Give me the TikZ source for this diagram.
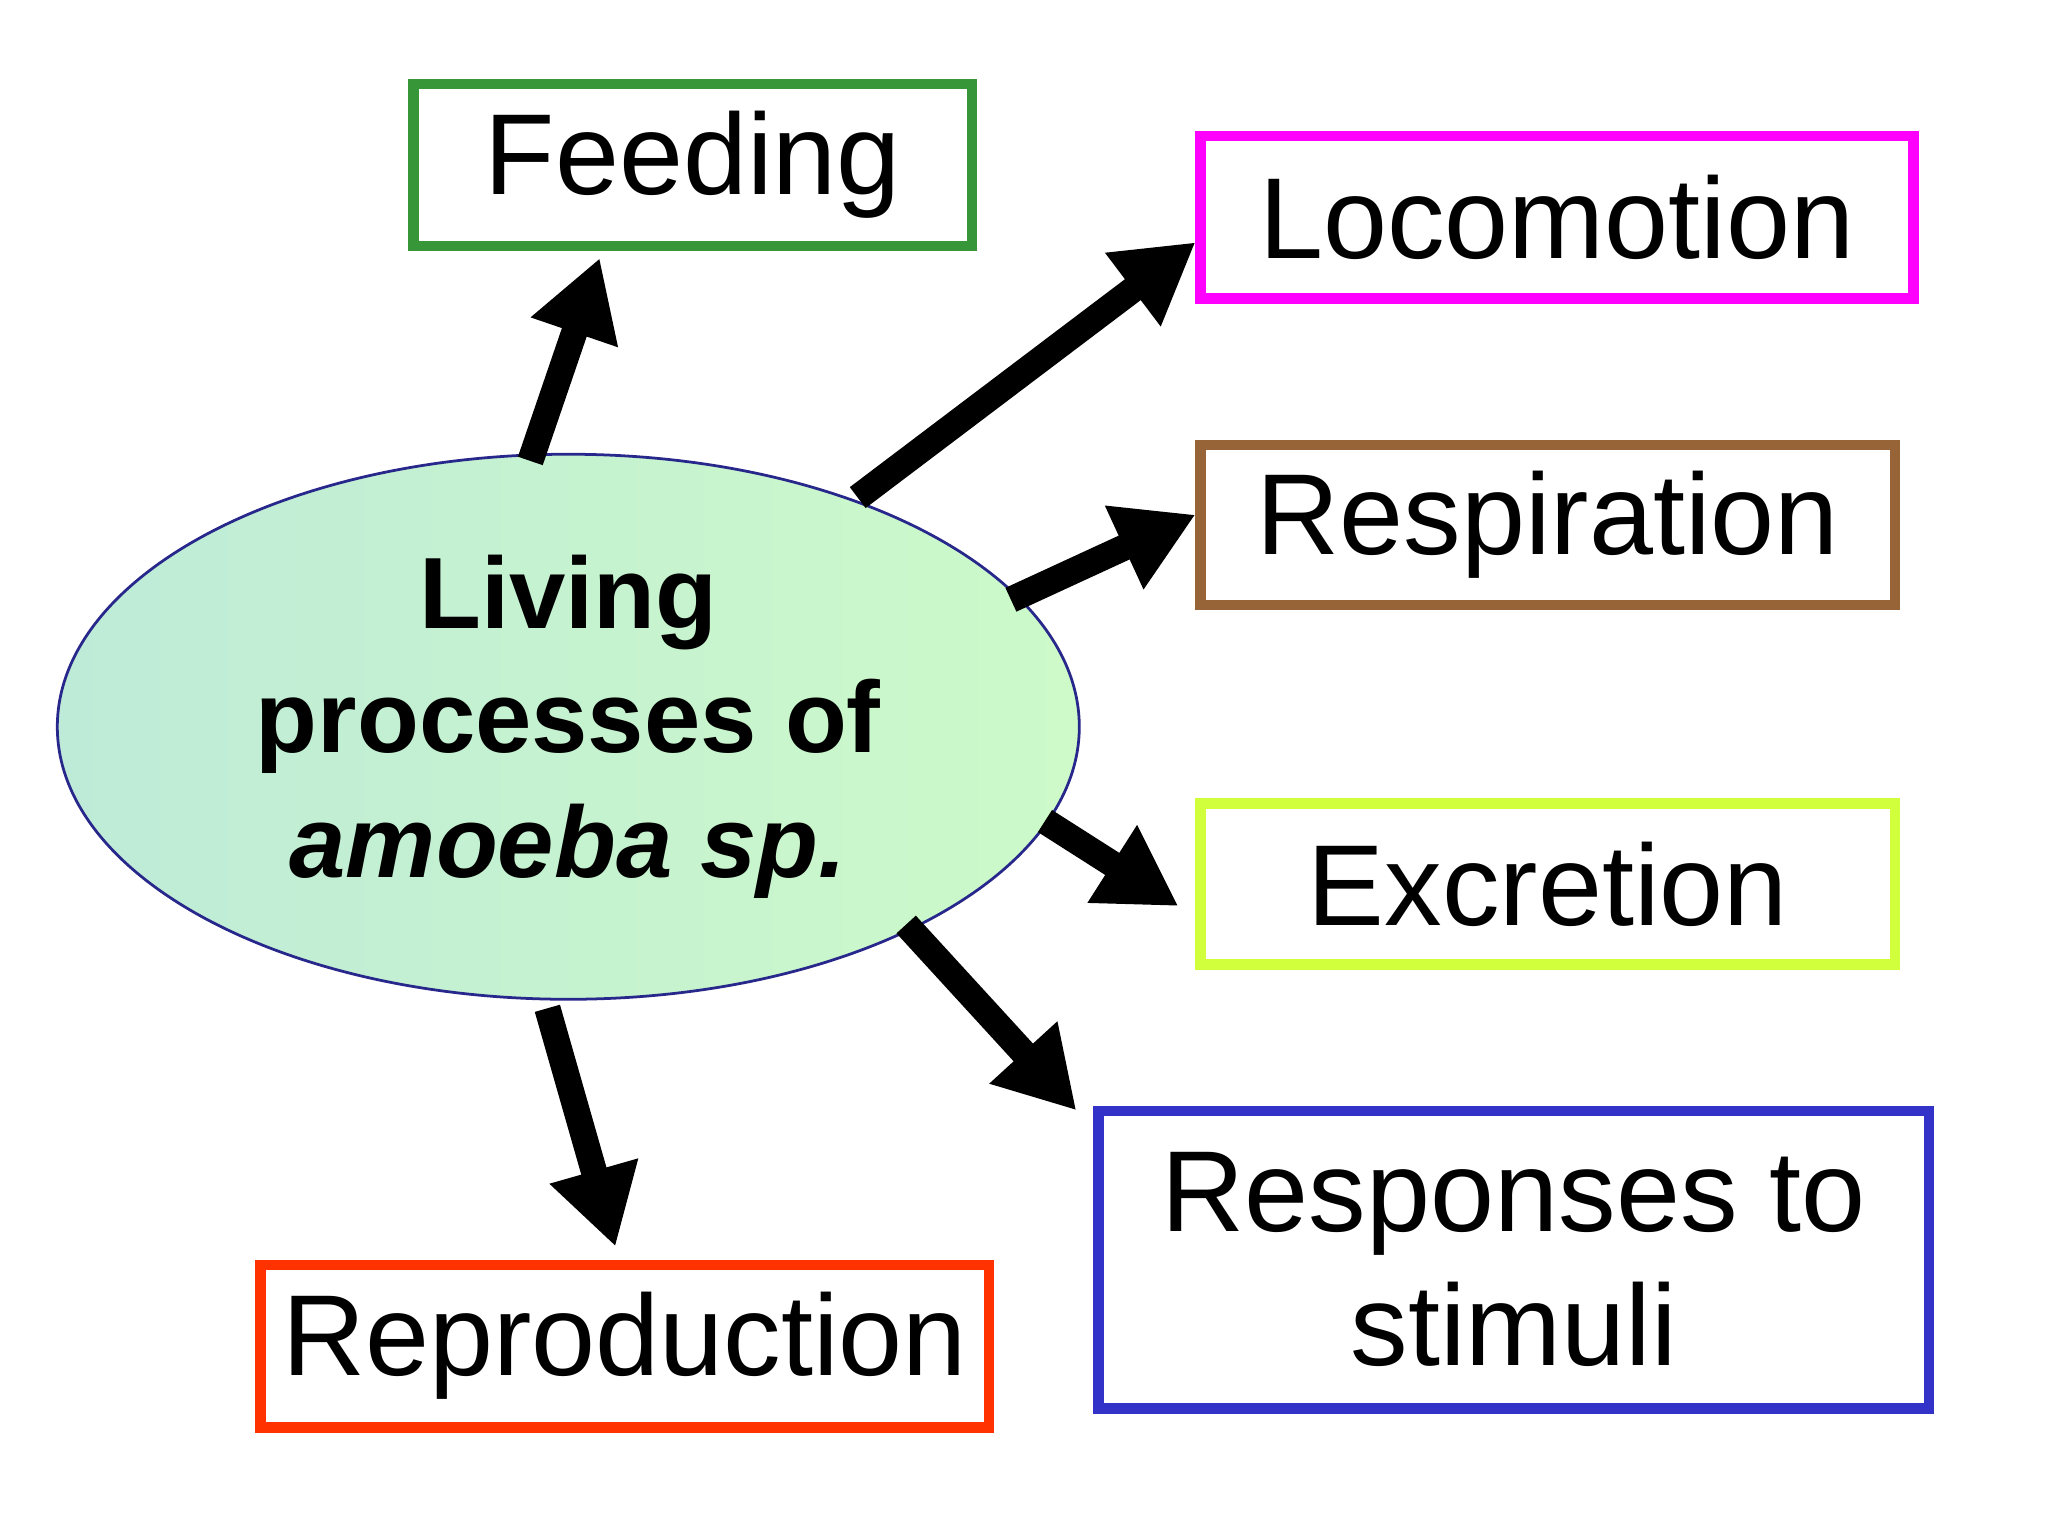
\documentclass[tikz,border=0pt]{standalone}
\usepackage{fontspec}
\setmainfont{Liberation Sans}
\usetikzlibrary{arrows.meta,shapes.geometric}
\begin{document}
\begin{tikzpicture}[x=0.01cm,y=-0.01cm,
  box/.style={draw,line width=0.08cm,fill=white,inner sep=0pt,font=\fontsize{25}{30}\selectfont},
  arr/.style={line width=0.2cm,-{Triangle[length=0.6cm,width=0.66cm]}}]
\useasboundingbox (0,0) rectangle (1564,1173);
\fill[white] (0,0) rectangle (1564,1173);
\node[draw={rgb,255:red,40;green,40;blue,140},line width=0.6pt,ellipse,minimum width=7.8cm,minimum height=4.16cm,
  left color={rgb,255:red,190;green,235;blue,215},right color={rgb,255:red,205;green,250;blue,200},
  align=center,font=\bfseries\fontsize{22}{27}\selectfont] (c) at (434,555)
  {Living\\processes of\\\textit{amoeba sp.}};
\node[box,draw={rgb,255:red,55;green,150;blue,55},minimum width=4.26cm,minimum height=1.24cm] (f) at (529,126) {Feeding};
\node[box,draw={rgb,255:red,255;green,0;blue,255},minimum width=5.44cm,minimum height=1.24cm] (l) at (1189,166) {Locomotion};
\node[box,draw={rgb,255:red,150;green,100;blue,55},minimum width=5.30cm,minimum height=1.22cm] (r) at (1182,401) {Respiration};
\node[box,draw={rgb,255:red,210;green,255;blue,60},minimum width=5.30cm,minimum height=1.23cm] (e) at (1182,675) {Excretion};
\node[box,draw={rgb,255:red,50;green,50;blue,200},minimum width=6.34cm,minimum height=2.27cm,align=center,font=\fontsize{25}{29}\selectfont] (s) at (1156,962) {Responses to\\stimuli};
\node[box,draw={rgb,255:red,255;green,50;blue,0},minimum width=5.56cm,minimum height=1.24cm] (p) at (477,1028) {Reproduction};
\coordinate (a1) at (405,352); \coordinate (b1) at (458,197);
\coordinate (a2) at (655,380); \coordinate (b2) at (913,185);
\coordinate (a3) at (772,458); \coordinate (b3) at (913,393);
\coordinate (a4) at (798,627); \coordinate (b4) at (900,692);
\coordinate (a5) at (692,706); \coordinate (b5) at (822,848);
\coordinate (a6) at (418,770); \coordinate (b6) at (470,952);
\draw[arr] (a1) -- (b1);
\draw[arr] (a2) -- (b2);
\draw[arr] (a3) -- (b3);
\draw[arr] (a4) -- (b4);
\draw[arr] (a5) -- (b5);
\draw[arr] (a6) -- (b6);
\end{tikzpicture}
\end{document}
